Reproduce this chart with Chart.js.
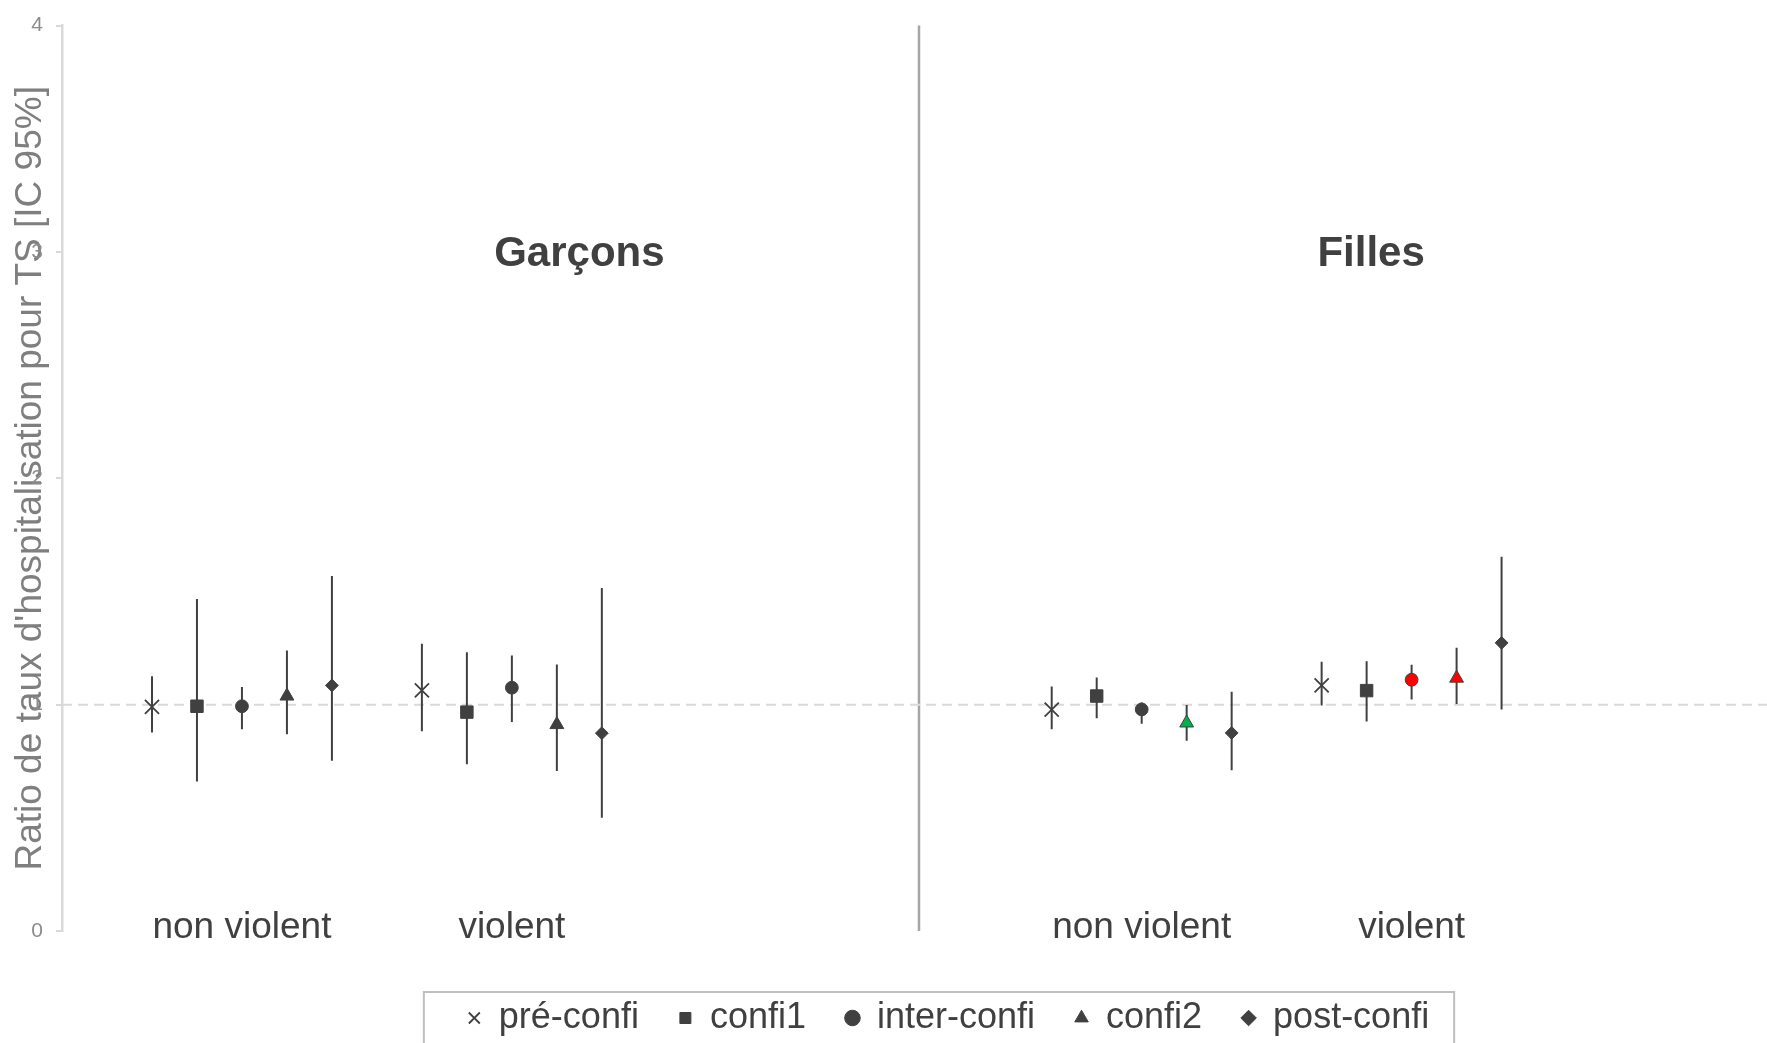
<!DOCTYPE html>
<html>
<head>
<meta charset="utf-8">
<script src="https://cdn.jsdelivr.net/npm/chart.js@4.4.1/dist/chart.umd.min.js"></script>
<style>
  html, body { margin: 0; padding: 0; background: #fff; }
  #wrap { width: 1767px; height: 1043px; }
</style>
</head>
<body>
<div id="wrap"><canvas id="chart"></canvas></div>
<script>
// groups in order: Garçons non violent, Garçons violent, Filles non violent, Filles violent
const panels = ['Garçons', 'Filles'];
const categories = ['non violent', 'violent'];
const seriesNames = ['pré-confi', 'confi1', 'inter-confi', 'confi2', 'post-confi'];
const yTicks = [0, 1, 2, 3, 4];
const yTitle = "Ratio de taux d'hospitalisation pour TS [IC 95%]";
const refRatio = 1;

const preRatio = [0.99, 1.063, 0.978, 1.085];
const preLow = [0.877, 0.882, 0.891, 0.996];
const preHigh = [1.125, 1.269, 1.080, 1.189];

const confi1Ratio = [0.993, 0.967, 1.038, 1.062];
const confi1Low = [0.660, 0.737, 0.940, 0.926];
const confi1High = [1.467, 1.232, 1.120, 1.192];

const interRatio = [0.993, 1.075, 0.979, 1.110];
const interLow = [0.891, 0.923, 0.916, 1.023];
const interHigh = [1.078, 1.217, 1.009, 1.176];

const confi2Ratio = [1.038, 0.912, 0.919, 1.117];
const confi2Low = [0.869, 0.707, 0.840, 1.003];
const confi2High = [1.239, 1.177, 0.998, 1.251];

const postRatio = [1.085, 0.874, 0.875, 1.273];
const postLow = [0.752, 0.500, 0.710, 0.979];
const postHigh = [1.568, 1.515, 1.057, 1.653];

const ratios = [preRatio, confi1Ratio, interRatio, confi2Ratio, postRatio];
const lows = [preLow, confi1Low, interLow, confi2Low, postLow];
const highs = [preHigh, confi1High, interHigh, confi2High, postHigh];

// styles
const dark = '#404040';
const fontFamily = '"Liberation Sans", Arial, sans-serif';
const pointStyles = ['crossRot', 'rect', 'circle', 'triangle', 'rectRot'];
const pointRadii = [10, 8.8, 6.4, 8, 6.4];
const highlight = [
  [null, null, null, null],
  [null, null, null, null],
  [null, null, null, '#ff0000'],
  [null, null, '#00b050', '#ff0000'],
  [null, null, null, null]
];

// layout on a linear x scale: group centres 4, 10 | 24, 30, separator at 19
const xMax = 37.9;
const separatorX = 19.05;
const panelTitleX = [11.5, 29.1];
function xPos(g, s) {
  return 4 + (g % 2) * 6 + Math.floor(g / 2) * 20 + (s - 2);
}

const datasets = [];
seriesNames.forEach((name, s) => {
  datasets.push({
    type: 'scatter',
    label: name,
    data: ratios[s].map((v, g) => ({x: xPos(g, s), y: v})),
    pointStyle: pointStyles[s],
    pointRadius: pointRadii[s],
    pointBackgroundColor: highlight[s].map(c => c || dark),
    backgroundColor: dark,
    borderColor: dark,
    pointBorderColor: dark,
    borderWidth: s === 0 ? 1.6 : 1,
    pointBorderWidth: s === 0 ? 1.8 : 1
  });
});
seriesNames.forEach((name, s) => {
  const pts = [];
  ratios[s].forEach((v, g) => {
    pts.push({x: xPos(g, s), y: lows[s][g]}, {x: xPos(g, s), y: highs[s][g]}, {x: xPos(g, s), y: null});
  });
  datasets.push({
    type: 'line', label: name + ' IC', data: pts,
    borderColor: dark, borderWidth: 2, pointRadius: 0, spanGaps: false
  });
});
datasets.push({
  type: 'line', label: 'ref', data: [{x: 0, y: refRatio}, {x: xMax, y: refRatio}],
  borderColor: '#d9d9d9', borderWidth: 2, borderDash: [10, 6], pointRadius: 0
});
datasets.push({
  type: 'line', label: 'sep', data: [{x: separatorX, y: yTicks[0]}, {x: separatorX, y: yTicks[yTicks.length - 1]}],
  borderColor: '#a6a6a6', borderWidth: 2.5, pointRadius: 0, clip: 6
});

const legendShift = 65;
const textPlugin = {
  id: 'panelText',
  afterLayout(chart) {
    chart.legend.left += legendShift;
    chart.legend.right += legendShift;
  },
  afterDraw(chart) {
    const {ctx, chartArea, scales: {x, y}} = chart;
    ctx.save();
    ctx.fillStyle = dark;
    ctx.textAlign = 'center';
    ctx.textBaseline = 'middle';
    ctx.font = 'bold 42px ' + fontFamily;
    panels.forEach((p, i) => ctx.fillText(p, x.getPixelForValue(panelTitleX[i]), y.getPixelForValue(3) + 2));
    ctx.font = '37px ' + fontFamily;
    for (let g = 0; g < 4; g++) {
      ctx.fillText(categories[g % 2], x.getPixelForValue(xPos(g, 2)), chartArea.bottom - 3);
    }
    // legend frame
    const hb = chart.legend.legendHitBoxes;
    if (hb && hb.length) {
      const first = hb[0], last = hb[hb.length - 1];
      const left = first.left - 44, right = last.left + last.width + 25;
      const top = first.top + first.height / 2 - 26;
      ctx.strokeStyle = '#bfbfbf';
      ctx.lineWidth = 2;
      ctx.strokeRect(left, top, right - left, chart.height + 20 - top);
    }
    ctx.restore();
  }
};

new Chart(document.getElementById('chart'), {
  type: 'scatter',
  data: {datasets: datasets},
  options: {
    responsive: true,
    maintainAspectRatio: false,
    animation: false,
    events: [],
    layout: {autoPadding: false, padding: {top: 22, right: 0, bottom: -3, left: 0}},
    scales: {
      x: {
        type: 'linear', min: 0, max: xMax,
        ticks: {display: false},
        grid: {display: false, drawTicks: true, tickLength: 29},
        border: {display: false}
      },
      y: {
        type: 'linear', min: yTicks[0], max: yTicks[yTicks.length - 1],
        afterBuildTicks: (scale) => { scale.ticks = yTicks.map(v => ({value: v})); },
        afterFit: (scale) => { scale.width = 62; },
        ticks: {color: '#8c8c8c', padding: 13, font: {size: 21, family: fontFamily}},
        grid: {drawOnChartArea: false, drawTicks: true, tickLength: 6, color: '#d9d9d9', lineWidth: 2},
        border: {display: true, color: '#d9d9d9', width: 2.5},
        title: {
          display: true, text: yTitle, color: '#7f7f7f',
          font: {size: 37, family: fontFamily},
          padding: {top: 9, bottom: 0}
        }
      }
    },
    plugins: {
      tooltip: {enabled: false},
      legend: {
        position: 'bottom',
        labels: {
          filter: (item) => item.datasetIndex < seriesNames.length,
          usePointStyle: true,
          boxWidth: 13, boxHeight: 11,
          padding: 40,
          color: dark,
          font: {size: 36, family: fontFamily}
        }
      }
    }
  },
  plugins: [textPlugin]
});
</script>
</body>
</html>
